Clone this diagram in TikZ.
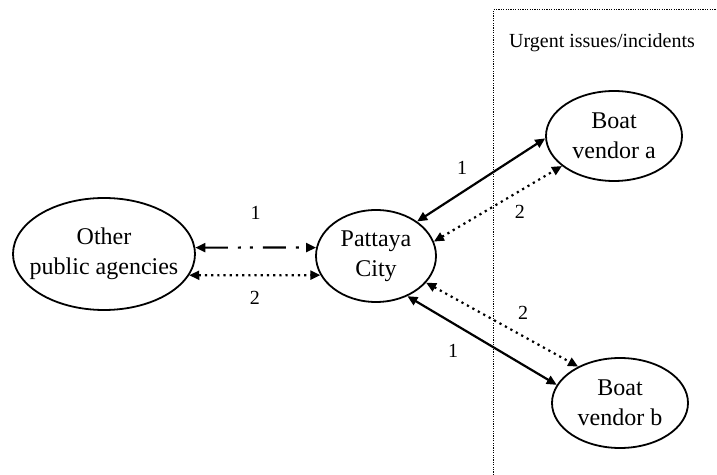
\documentclass[tikz,border=0pt]{standalone}
\usepackage{fontspec}
\setmainfont{Liberation Serif}
\usetikzlibrary{shapes.geometric, arrows.meta}

\begin{document}
\begin{tikzpicture}[x=0.5pt, y=-0.5pt, >={Triangle[length=5pt, width=4.5pt]},
  party/.style={ellipse, draw, line width=0.9pt, inner sep=0pt, minimum width=#1, minimum height=45pt},
  party/.default=68pt,
  txt/.style={align=center, font=\fontsize{12}{15}\selectfont},
  num/.style={font=\fontsize{10}{12}\selectfont, inner sep=0pt},
  link/.style={<->, line width=1.1pt},
  linkdots/.style={<->, line width=1.1pt, dash pattern=on 1.1pt off 2pt},
  linkdashdot/.style={<->, line width=1.1pt, dash pattern=on 11.5pt off 5pt on 1.5pt off 4.5pt on 1.5pt off 5pt}]
  \useasboundingbox (0,0) rectangle (717,475);
  % Urgent zone
  \draw[line width=0.5pt, dash pattern=on 0.6pt off 0.6pt] (493,475) -- (493,10) -- (717,10);
  \node[num] (urgent) at (602,43) {Urgent issues/incidents};
  % Parties
  \node[party=91pt, minimum height=56pt, label={[txt]center:Other\\public agencies}] (agencies) at (104,254) {};
  \node[party=60pt, minimum height=46pt, label={[txt]center:Pattaya\\City}] (city) at (376,256) {};
  \node[party, label={[txt]center:Boat\\vendor a}] (venda) at (614,136) {};
  \node[party, label={[txt]center:Boat\\vendor b}] (vendb) at (620,403) {};
  % Links
  \draw[linkdashdot] (agencies.4) -- node[num, midway, shift={(0,-35)}] {1} (city.172);
  \draw[linkdots] (agencies.-14) -- node[num, midway, shift={(0,23)}] {2} (city.199);
  \draw[link] (city.40) -- node[num, midway, shift={(-19,-12)}] {1} (venda.182);
  \draw[linkdots] (city.14) -- node[num, midway, shift={(22,8)}] {2} (venda.210);
  \draw[linkdots] (city.-28) -- node[num, midway, shift={(21,-12)}] {2} (vendb.139);
  \draw[link] (city.-52) -- node[num, midway, shift={(-29,10)}] {1} (vendb.164);
\end{tikzpicture}
\end{document}
